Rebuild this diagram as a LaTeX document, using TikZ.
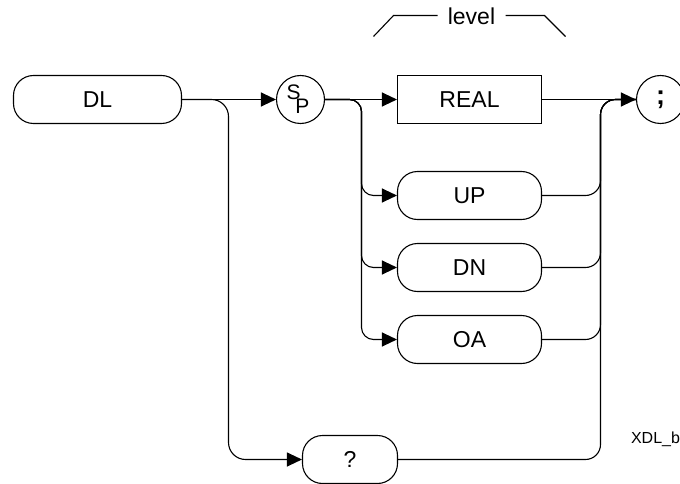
\documentclass[tikz,border=0pt]{standalone}
\usepackage{fontspec}
\setmainfont{Liberation Sans}
\usetikzlibrary{arrows.meta,calc}
\begin{document}
\begin{tikzpicture}[x=1pt,y=-1pt,line width=1.1pt,
  txt/.style={font=\fontsize{23}{26}\selectfont},
  pill/.style={draw,rounded corners=20pt,minimum height=48pt,inner sep=0pt,txt},
  boxnode/.style={draw,minimum height=48pt,inner sep=0pt,txt},
  circnode/.style={draw,circle,minimum size=48pt,inner sep=0pt},
  arr/.style={-{Triangle[length=15pt,width=14pt]}}]
\useasboundingbox (-0.5,-0.5) rectangle (679.5,483.5);
% nodes
\node[pill,minimum width=168pt] (DL) at (97,99) {DL};
\node[circnode] (SP) at (300,99) {};
\node[font=\fontsize{21}{22}\selectfont,inner sep=0pt] (S) at (293,92) {S};
\node[font=\fontsize{21}{22}\selectfont,inner sep=0pt] (P) at (302,106) {P};
\node[boxnode,minimum width=144pt] (REAL) at (469,99) {REAL};
\node[pill,minimum width=144pt] (UP) at (469,195) {UP};
\node[pill,minimum width=144pt] (DN) at (469,267) {DN};
\node[pill,minimum width=144pt] (OA) at (469,339) {OA};
\node[pill,minimum width=95pt] (Q) at (349.5,459) {?};
\node[circnode,font=\fontsize{27}{28}\bfseries\selectfont] (SEMI) at (660,99) {;};
\node[txt,inner sep=0pt] (LEVEL) at (471,16) {level};
\node[font=\fontsize{16}{18}\selectfont] (XDL) at (655,439) {XDL\_b};
% branch points
\coordinate (b1) at (228,99);
\coordinate (b2) at (361,99);
\coordinate (b3) at (600,99);
% level brackets
\coordinate (l1) at (373,36);
\coordinate (l2) at (393,15);
\coordinate (l3) at (437,15);
\coordinate (r3) at (505,15);
\coordinate (r2) at (544,15);
\coordinate (r1) at (565,36);
\draw (l1) -- (l2) -- (l3);
\draw (r3) -- (r2) -- (r1);
% connectors
\draw[arr] (DL.east) -- (SP.west);
\draw[arr,rounded corners=17pt] (DL.east) -- (b1) |- (Q.west);
\draw[arr] (SP.east) -- (REAL.west);
\draw[arr,rounded corners=12pt] (SP.east) -- (b2) |- (UP.west);
\draw[arr,rounded corners=12pt] (SP.east) -- (b2) |- (DN.west);
\draw[arr,rounded corners=12pt] (SP.east) -- (b2) |- (OA.west);
\draw[rounded corners=15pt] (UP.east) -| (b3) -- (SEMI.west);
\draw[rounded corners=15pt] (DN.east) -| (b3) -- (SEMI.west);
\draw[rounded corners=15pt] (OA.east) -| (b3) -- (SEMI.west);
\draw[rounded corners=15pt] (Q.east) -| (b3) -- (SEMI.west);
\draw[arr] (REAL.east) -- (SEMI.west);
\end{tikzpicture}
\end{document}
